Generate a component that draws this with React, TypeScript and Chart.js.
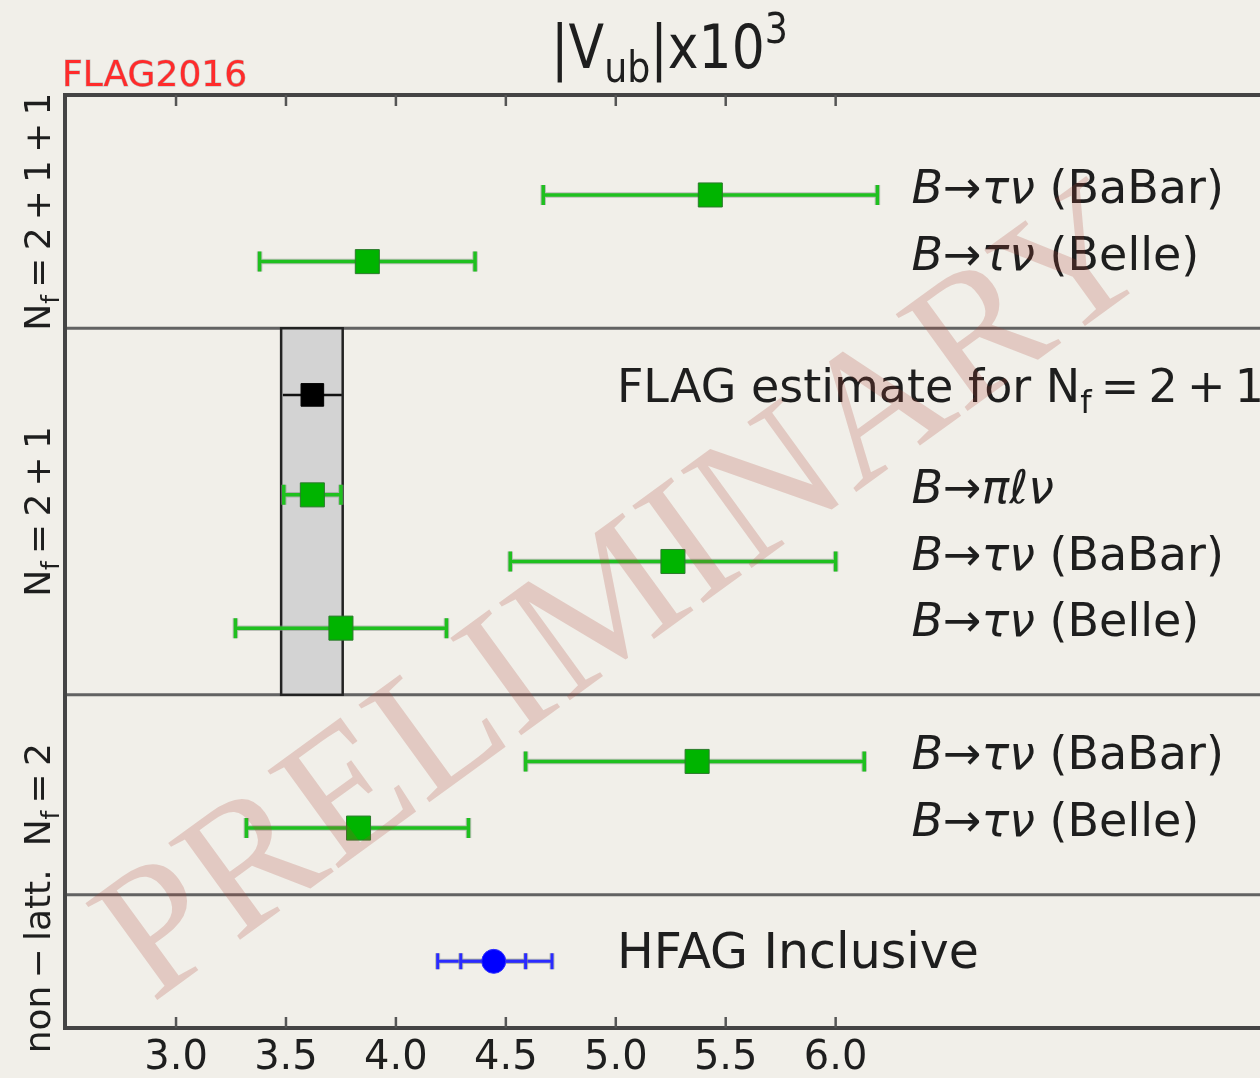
import { useEffect, useRef } from "react";
import { Chart, registerables } from "chart.js";

Chart.register(...registerables);

// ---------- data ----------
const xTicks = [3.0, 3.5, 4.0, 4.5, 5.0, 5.5, 6.0];

const groupNames: [string, string][][] = [
  [["N", "r"], ["f", "sub"], ["\u2009=\u20092\u2009+\u20091\u2009+\u20091", "r"]],
  [["N", "r"], ["f", "sub"], ["\u2009=\u20092\u2009+\u20091", "r"]],
  [["N", "r"], ["f", "sub"], ["\u2009=\u20092", "r"]],
  [["non\u2009\u2212\u2009latt.", "r"]],
];
const groupLow = [10.5, 5, 2, 0];
const groupHigh = [14, 10.5, 5, 2];
const separators = [10.5, 5, 2];

const greenRows = [12.5, 11.5, 8, 7, 6, 4, 3];
const greenValues = [5.43, 3.87, 3.62, 5.26, 3.75, 5.37, 3.83];
const greenLow = [4.67, 3.38, 3.49, 4.52, 3.27, 4.59, 3.32];
const greenHigh = [6.19, 4.36, 3.75, 6.0, 4.23, 6.13, 4.33];

const tauBaBar: [string, string][] = [["B", "i"], ["\u2192", "r"], ["\u03c4\u03bd", "i"], [" (BaBar)", "r"]];
const tauBelle: [string, string][] = [["B", "i"], ["\u2192", "r"], ["\u03c4\u03bd", "i"], [" (Belle)", "r"]];
const piLNu: [string, string][] = [["B", "i"], ["\u2192", "r"], ["\u03c0\u2113\u03bd", "i"]];
const greenLabels = [tauBaBar, tauBelle, piLNu, tauBaBar, tauBelle, tauBaBar, tauBelle];

const flagRow = 9.5;
const flagValue = 3.62;
const flagLow = 3.486;
const flagHigh = 3.754;
const flagBandX = [3.478, 3.758];
const flagBandY = [5, 10.5];
const flagLabel: [string, string][] = [["FLAG estimate for N", "r"], ["f", "sub"], ["\u2009=\u20092\u2009+\u20091", "r"]];

const hfagRow = 1;
const hfagValue = 4.445;
const hfagLow = 4.19;
const hfagHigh = 4.71;
const hfagStatLow = 4.295;
const hfagStatHigh = 4.59;
const hfagLabel: [string, string][] = [["HFAG Inclusive", "r"]];

const titleRuns: [string, string][] = [["|V", "r"], ["ub", "sub"], ["|x10", "r"], ["3", "sup"]];

// ---------- helpers ----------
const FAM = "'DejaVu Sans'";

function runsWidth(ctx: CanvasRenderingContext2D, runs: [string, string][], size: number) {
  let w = 0;
  for (const [t, st] of runs) {
    const fs = st === "sub" || st === "sup" ? size * 0.7 : size;
    ctx.font = `${st === "i" ? "italic " : ""}${fs}px ${FAM}`;
    w += ctx.measureText(t).width;
  }
  return w;
}

function drawRuns(ctx: CanvasRenderingContext2D, runs: [string, string][], x: number, y: number, size: number) {
  let cx = x;
  for (const [t, st] of runs) {
    let fs = size;
    let dy = 0;
    if (st === "sub") { fs = size * 0.7; dy = size * 0.24; }
    if (st === "sup") { fs = size * 0.7; dy = -size * 0.42; }
    ctx.font = `${st === "i" ? "italic " : ""}${fs}px ${FAM}`;
    ctx.fillText(t, cx, y + dy);
    cx += ctx.measureText(t).width;
  }
}

function errorBar(ctx: CanvasRenderingContext2D, x1: number, x2: number, y: number, color: string, lw: number, cap: number) {
  ctx.save();
  for (const pass of [0, 1]) {
    ctx.strokeStyle = pass === 0 ? "rgba(140,150,140,0.55)" : color;
    ctx.lineWidth = pass === 0 ? lw + 2 : lw;
    ctx.beginPath();
    ctx.moveTo(x1, y); ctx.lineTo(x2, y);
    if (cap > 0) {
      ctx.moveTo(x1, y - cap / 2); ctx.lineTo(x1, y + cap / 2);
      ctx.moveTo(x2, y - cap / 2); ctx.lineTo(x2, y + cap / 2);
    }
    ctx.stroke();
  }
  ctx.restore();
}

const bgPlugin = {
  id: "bg",
  beforeDraw(chart: any) {
    const ctx = chart.ctx as CanvasRenderingContext2D;
    ctx.save();
    ctx.fillStyle = "#f1efe9";
    ctx.fillRect(0, 0, chart.width, chart.height);
    ctx.restore();
  },
};

const decorPlugin = {
  id: "decor",
  beforeDatasetsDraw(chart: any) {
    const ctx = chart.ctx as CanvasRenderingContext2D;
    const xs = chart.scales.x;
    const ys = chart.scales.y;
    const area = chart.chartArea;
    ctx.save();
    // separators
    ctx.strokeStyle = "#626262";
    ctx.lineWidth = 3;
    for (const s of separators) {
      const py = ys.getPixelForValue(s);
      ctx.beginPath();
      ctx.moveTo(area.left, py);
      ctx.lineTo(area.right, py);
      ctx.stroke();
    }
    // FLAG band
    const bx1 = xs.getPixelForValue(flagBandX[0]);
    const bx2 = xs.getPixelForValue(flagBandX[1]);
    const by1 = ys.getPixelForValue(flagBandY[1]);
    const by2 = ys.getPixelForValue(flagBandY[0]);
    ctx.fillStyle = "#d3d3d3";
    ctx.fillRect(bx1, by1, bx2 - bx1, by2 - by1);
    ctx.strokeStyle = "#222";
    ctx.lineWidth = 2.5;
    ctx.strokeRect(bx1, by1, bx2 - bx1, by2 - by1);
    // error bars
    greenRows.forEach((r, i) => {
      errorBar(ctx, xs.getPixelForValue(greenLow[i]), xs.getPixelForValue(greenHigh[i]), ys.getPixelForValue(r), "#1fc01f", 3.5, 20);
    });
    ctx.strokeStyle = "#111";
    ctx.lineWidth = 2.5;
    ctx.beginPath();
    ctx.moveTo(xs.getPixelForValue(flagLow), ys.getPixelForValue(flagRow));
    ctx.lineTo(xs.getPixelForValue(flagHigh), ys.getPixelForValue(flagRow));
    ctx.stroke();
    const hy = ys.getPixelForValue(hfagRow);
    errorBar(ctx, xs.getPixelForValue(hfagLow), xs.getPixelForValue(hfagHigh), hy, "#2a2aff", 3, 16);
    errorBar(ctx, xs.getPixelForValue(hfagStatLow), xs.getPixelForValue(hfagStatHigh), hy, "#2a2aff", 3, 16);
    ctx.restore();
  },
  afterDraw(chart: any) {
    const ctx = chart.ctx as CanvasRenderingContext2D;
    const xs = chart.scales.x;
    const ys = chart.scales.y;
    const area = chart.chartArea;
    ctx.save();
    // spines
    ctx.strokeStyle = "#444";
    ctx.lineWidth = 4;
    ctx.beginPath();
    ctx.moveTo(area.right + 4, area.top);
    ctx.lineTo(area.left, area.top);
    ctx.lineTo(area.left, area.bottom);
    ctx.lineTo(area.right + 4, area.bottom);
    ctx.stroke();
    // inward ticks
    ctx.strokeStyle = "#555";
    ctx.lineWidth = 2.5;
    for (const t of xTicks) {
      const px = xs.getPixelForValue(t);
      ctx.beginPath();
      ctx.moveTo(px, area.top);
      ctx.lineTo(px, area.top + 11);
      ctx.moveTo(px, area.bottom);
      ctx.lineTo(px, area.bottom - 11);
      ctx.stroke();
    }
    // text
    ctx.fillStyle = "#1e1e1e";
    ctx.textBaseline = "alphabetic";
    ctx.textAlign = "left";
    greenRows.forEach((r, i) => {
      drawRuns(ctx, greenLabels[i], xs.getPixelForValue(6.345), ys.getPixelForValue(r) + 8, 46);
    });
    drawRuns(ctx, flagLabel, xs.getPixelForValue(5.005), ys.getPixelForValue(flagRow) + 7, 46);
    drawRuns(ctx, hfagLabel, xs.getPixelForValue(5.005), ys.getPixelForValue(hfagRow) + 7, 49);
    // group labels (rotated)
    groupNames.forEach((runs, i) => {
      const cy = (ys.getPixelForValue(groupLow[i]) + ys.getPixelForValue(groupHigh[i])) / 2;
      const w = runsWidth(ctx, runs, 36);
      ctx.save();
      ctx.translate(50, cy);
      ctx.rotate(-Math.PI / 2);
      drawRuns(ctx, runs, -w / 2, 0, 36);
      ctx.restore();
    });
    // title
    const tw = runsWidth(ctx, titleRuns, 52);
    ctx.save();
    ctx.translate((area.left + area.right) / 2 + 7 - tw / 2, 68);
    ctx.scale(1, 1.16);
    drawRuns(ctx, titleRuns, 0, 0, 52);
    ctx.restore();
    // FLAG2016 logo
    ctx.font = `36px ${FAM}`;
    ctx.fillStyle = "#ff2b2b";
    ctx.strokeStyle = "rgba(150,150,150,0.6)";
    ctx.lineWidth = 1;
    ctx.strokeText("FLAG2016", 62, 86);
    ctx.fillText("FLAG2016", 62, 86);
    // watermark
    ctx.translate(628, 598);
    ctx.rotate(-36 * Math.PI / 180);
    ctx.font = "184px 'Liberation Serif'";
    ctx.textAlign = "center";
    ctx.textBaseline = "middle";
    ctx.fillStyle = "rgba(175,70,55,0.22)";
    ctx.fillText("PRELIMINARY", 0, 0);
    ctx.restore();
  },
};

export default function App() {
  const ref = useRef<HTMLCanvasElement | null>(null);
  useEffect(() => {
    document.body.style.margin = "0";
    document.body.style.background = "#f1efe9";
    const canvas = ref.current!;
    const chart = new Chart(canvas, {
      type: "scatter",
      data: {
        datasets: [
          {
            label: "lattice",
            data: greenRows.map((y, i) => ({ x: greenValues[i], y })),
            pointStyle: "rect",
            pointRadius: 17,
            backgroundColor: "#00b400",
            borderColor: "#2c7a2c",
            borderWidth: 1,
          },
          {
            label: "FLAG",
            data: [{ x: flagValue, y: flagRow }],
            pointStyle: "rect",
            pointRadius: 16,
            backgroundColor: "#000",
            borderColor: "#000",
            borderWidth: 1,
          },
          {
            label: "HFAG",
            data: [{ x: hfagValue, y: hfagRow }],
            pointStyle: "circle",
            pointRadius: 12,
            backgroundColor: "#0000ff",
            borderColor: "#3030ff",
            borderWidth: 1,
          },
        ],
      },
      options: {
        animation: false,
        responsive: false,
        maintainAspectRatio: false,
        events: [],
        layout: { autoPadding: false, padding: { left: 65, top: 95, right: 0, bottom: 0 } },
        plugins: { legend: { display: false }, tooltip: { enabled: false } },
        scales: {
          x: {
            type: "linear",
            min: 2.495,
            max: 7.93,
            afterBuildTicks: (s: any) => {
              s.ticks = xTicks.map((v) => ({ value: v }));
            },
            afterFit: (s: any) => {
              s.height = 50;
              s.paddingLeft = 0;
              s.paddingRight = 0;
            },
            grid: { display: false, drawTicks: false },
            border: { display: false },
            ticks: {
              padding: 7,
              color: "#1e1e1e",
              font: { family: "DejaVu Sans", size: 40 },
              maxRotation: 0,
              autoSkip: false,
              callback: (v: any) => Number(v).toFixed(1),
            },
          },
          y: { type: "linear", min: 0, max: 14, display: false },
        },
      },
      plugins: [bgPlugin, decorPlugin],
    });
    return () => chart.destroy();
  }, []);
  return (
    <div style={{ position: "absolute", left: 0, top: 0, width: 1260, height: 1078, background: "#f1efe9" }}>
      <canvas ref={ref} width={1260} height={1078} style={{ display: "block", width: 1260, height: 1078 }} />
    </div>
  );
}
